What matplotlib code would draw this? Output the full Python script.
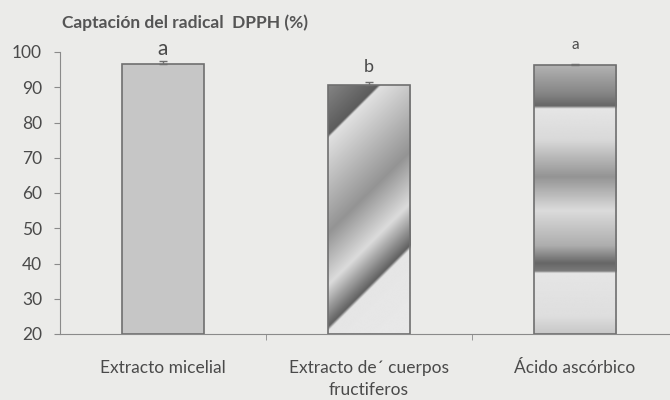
import numpy as np
import matplotlib
matplotlib.use('Agg')
import matplotlib.pyplot as plt

# data
categories = ['Extracto micelial', 'Extracto de\u00b4 cuerpos\nfructiferos', '\u00c1cido asc\u00f3rbico']
values = [96.5, 90.6, 96.4]
errors = [0.9, 0.9, 0.3]
letters = ['a', 'b', 'a']
yticks = [20, 30, 40, 50, 60, 70, 80, 90, 100]

plt.rcParams['font.family'] = ['Lato', 'DejaVu Sans']
bg = '#ebebe9'
txt = '#4a4a4a'
edge = '#6f6f6f'

fig = plt.figure(figsize=(6.7, 4), dpi=100, facecolor=bg)
ax = fig.add_axes([60/670, 66/400, 618/670, 282/400])
ax.set_facecolor(bg)

x = np.arange(len(values))
w = 0.40
ax.set_xlim(-0.5, 2.5)
ax.set_ylim(20, 100)

bars = ax.bar(x, np.array(values) - 20, bottom=20, width=w, color=['#c6c6c6', 'none', 'none'],
              edgecolor=edge, linewidth=1.2, zorder=3)
ax.errorbar(x, values, yerr=[[0, 0, 0], errors], fmt='none', ecolor=edge, elinewidth=1,
            capsize=3, zorder=4)

# pixel scale, used for the diagonal fill of bar 2
sx = 618 / 3.0
sy = 282 / 80.0

# bar 2: diagonal gradient bands
b = bars[1]
x0, x1 = b.get_x(), b.get_x() + b.get_width()
y0, y1 = 20, values[1]
gx, gy = np.meshgrid(np.linspace(x0, x1, 200), np.linspace(y1, y0, 600))
u = (gx - x0) * sx + (y1 - gy) * sy
stops = [0, 50, 53, 148, 200, 242, 246, 400]
greys = [0.52, 0.36, 0.88, 0.58, 0.86, 0.38, 0.90, 0.92]
img = np.interp(u, stops, greys)
im = ax.imshow(img, cmap='gray', vmin=0, vmax=1, extent=[x0, x1, y0, y1], aspect='auto',
               interpolation='bilinear', zorder=2)
im.set_clip_path(b)

# bar 3: horizontal gradient bands
b = bars[2]
x0, x1 = b.get_x(), b.get_x() + b.get_width()
y0, y1 = 20, values[2]
yy = np.linspace(y1, y0, 600)
vs = [20, 25, 37.2, 37.8, 40, 45, 55, 64.5, 75, 83.8, 84.6, 88, 97]
gv = [0.78, 0.87, 0.90, 0.48, 0.40, 0.68, 0.86, 0.58, 0.85, 0.90, 0.40, 0.52, 0.72]
col = np.interp(yy, vs, gv)
img = np.tile(col[:, None], (1, 50))
im = ax.imshow(img, cmap='gray', vmin=0, vmax=1, extent=[x0, x1, y0, y1], aspect='auto',
               interpolation='bilinear', zorder=2)
im.set_clip_path(b)

# significance letters
lsize = [15, 13, 11]
lpad = [0.6, 2.0, 3.4]
for i, v in enumerate(values):
    ax.text(i, v + errors[i] + lpad[i], letters[i], ha='center', va='bottom', fontsize=lsize[i],
            color=txt, clip_on=False)

for s in ['top', 'right']:
    ax.spines[s].set_visible(False)
ax.spines['left'].set_color('#8a8a8a')
ax.spines['bottom'].set_color('#8a8a8a')
ax.spines['left'].set_bounds(20, 100)

ax.set_yticks(yticks)
ax.tick_params(axis='y', colors='#8a8a8a', labelcolor=txt, labelsize=12.5, length=4, pad=9)
ax.set_xticks(x)
ax.set_xticklabels(categories, fontsize=12.5, color=txt, linespacing=1.45)
ax.tick_params(axis='x', which='major', length=0, pad=19)
ax.set_xticks([0.5, 1.5], minor=True)
ax.tick_params(axis='x', which='minor', length=4, colors='#8a8a8a', direction='out')

fig.text(62/670, 1 - 23/400, 'Captaci\u00f3n del radical  DPPH (%)', fontsize=12.5,
         fontweight='bold', color='#555555', va='center')

fig.savefig('out.png', dpi=100, facecolor=bg)
